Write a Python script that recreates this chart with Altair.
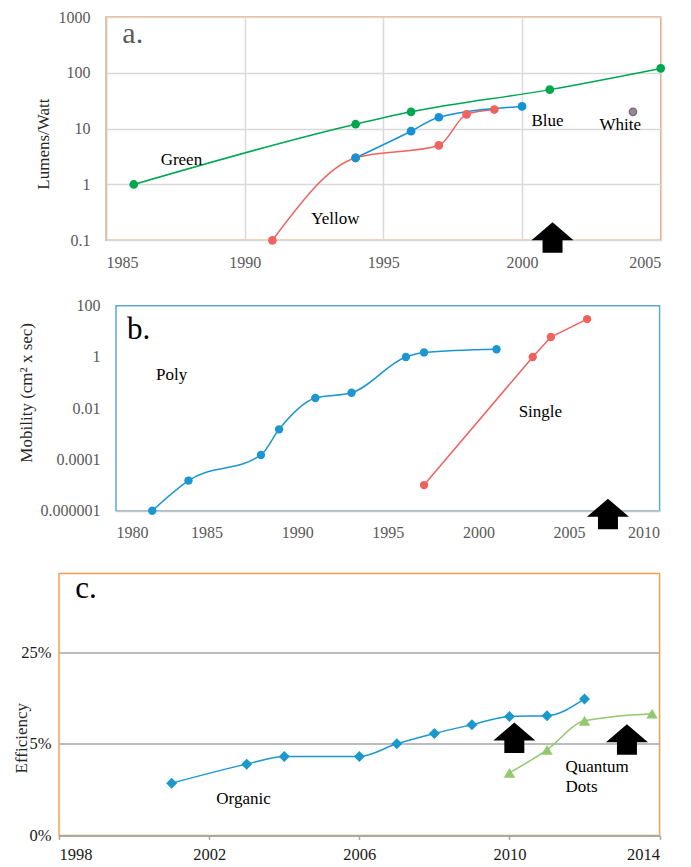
import altair as alt
import pandas as pd

# ---------------- data: panel a (LED efficiency) ----------------
green_year = [1986, 1994, 1996, 2001, 2005]
green_lmw = [1, 12, 20, 50, 120]
blue_year = [1994, 1996, 1997, 2000]
blue_lmw = [3, 9, 16, 25]
yellow_year = [1991, 1994, 1997, 1998, 1999]
yellow_lmw = [0.1, 3, 5, 18, 22]
white_year = [2004]
white_lmw = [20]

a_x_ticks = [1985, 1990, 1995, 2000, 2005]
a_y_ticks = [0.1, 1, 10, 100, 1000]
a_lab_text = ["Green", "Yellow", "Blue", "White"]
a_lab_year = [1986.97, 1992.40, 2000.34, 2002.79]
a_lab_val = [2.22, 0.194, 11.3, 9.44]
a_letter = ["a."]
a_letter_year = [1985.59]
a_letter_val = [340]
arrow_a_year = [2001.1]
arrow_a_val = [0.1]
frame_a_year = [1981.625]   # invisible left edge of panel a (layout only)
frame_a_val = [1]

# ---------------- data: panel b (mobility) ----------------
poly_year = [1982, 1984, 1988, 1989, 1991, 1993, 1996, 1997, 2001]
poly_mob = [1e-6, 1.5e-5, 1.5e-4, 1.5e-3, 0.025, 0.04, 1, 1.5, 2]
single_year = [1997, 2003, 2004, 2006]
single_mob = [1e-5, 1, 6, 30]

b_x_ticks = [1980, 1985, 1990, 1995, 2000, 2005, 2010]
b_y_ticks = [1e-6, 1e-4, 1e-2, 1, 100]
b_lab_text = ["Poly", "Single"]
b_lab_year = [1982.21, 2002.22]
b_lab_val = [0.131, 0.00444]
b_letter = ["b."]
b_letter_year = [1980.61]
b_letter_val = [5.09]
arrow_b_year = [2007.15]
arrow_b_val = [5.8e-7]
frame_b_year = [1974.294]   # invisible left edge of panel b (layout only)
frame_b_val = [1]

# ---------------- data: panel c (solar efficiency) ----------------
organic_year = [2001, 2003, 2004, 2006, 2007, 2008, 2009, 2010, 2011, 2012]
organic_eff = [0.025, 0.035, 0.04, 0.04, 0.05, 0.06, 0.07, 0.081, 0.082, 0.11]
qd_year = [2010, 2011, 2012, 2013.8]
qd_eff = [0.03, 0.045, 0.075, 0.085]

c_x_ticks = [1998, 2002, 2006, 2010, 2014]
c_y_ticks = [0.01, 0.05, 0.25]
c_lab_text = ["Organic", "Quantum", "Dots"]
c_lab_year = [2002.19, 2011.49, 2011.49]
c_lab_val = [0.0174, 0.0304, 0.0215]
c_letter = ["c."]
c_letter_year = [1998.43]
c_letter_val = [0.65]
arrow_c_year = [2010.13, 2013.13]
arrow_c_val = [0.053, 0.0515]
frame_c_year = [1996.775]   # invisible left edge of panel c (layout only)
frame_c_val = [0.05]

SERIF = "Liberation Serif"
ARROW = "M-1,0L0,-0.857L1,0L0.476,0L0.476,0.595L-0.476,0.595L-0.476,0Z"


def df(years, vals):
    return pd.DataFrame({"year": years, "val": vals})


def labdf(texts, years, vals):
    return pd.DataFrame({"label": texts, "year": years, "val": vals})


def panel(x_enc, y_enc, series, extra, labels, letter, letter_style, arrows, frame,
          width, height, view):
    lines = []
    points = []
    for d, color, shape, size, interp in series:
        base = alt.Chart(d).encode(x=x_enc, y=y_enc)
        if len(d) > 1:
            lines.append(base.mark_line(color=color, strokeWidth=1.5, interpolate=interp))
        points.append(base.mark_point(filled=True, color=color, shape=shape, size=size,
                                      opacity=1))
    layers = lines + points + extra
    layers.append(
        alt.Chart(labels).mark_text(align="left", baseline="alphabetic", font=SERIF,
                                    fontSize=17, color="black")
        .encode(x=x_enc, y=y_enc, text="label:N")
    )
    layers.append(
        alt.Chart(letter).mark_text(align="left", baseline="alphabetic", font=SERIF,
                                    **letter_style)
        .encode(x=x_enc, y=y_enc, text="label:N")
    )
    layers.append(
        alt.Chart(arrows).mark_point(shape=ARROW, size=1764, filled=True, color="black",
                                     opacity=1, strokeWidth=0)
        .encode(x=x_enc, y=y_enc)
    )
    layers.append(
        alt.Chart(frame).mark_text(text=".", align="left", fontSize=2, opacity=0)
        .encode(x=x_enc, y=y_enc)
    )
    return alt.layer(*layers).properties(width=width, height=height, view=view)


# ---------------- panel a ----------------
xa = alt.X("year:Q", title=None,
           scale=alt.Scale(domain=[1985, 2005], nice=False, zero=False),
           axis=alt.Axis(values=a_x_ticks, format="d", grid=True, gridColor="#D9D9D9",
                         gridWidth=1.5, ticks=False, domain=False, labelFont=SERIF,
                         labelFontSize=16, labelColor="#595959", labelPadding=14))
ya = alt.Y("val:Q",
           scale=alt.Scale(type="log", domain=[0.1, 1000], nice=False),
           axis=alt.Axis(values=a_y_ticks, format="~f", grid=True, gridColor="#D9D9D9",
                         gridWidth=1.5, ticks=False, domain=True, domainColor="#CFC7BF",
                         domainWidth=1.5, labelFont=SERIF, labelFontSize=16,
                         labelColor="#595959", labelPadding=16,
                         title="Lumens/Watt", titleFont=SERIF, titleFontSize=17,
                         titleFontWeight="normal", titleColor="#262626",
                         titleAngle=270, titleBaseline="middle", titleAlign="center",
                         titleX=-63, titleY=126.6))

white_pt = alt.Chart(df(white_year, white_lmw)).mark_point(
    filled=True, fill="#9A8C78", stroke="#8064A2", strokeWidth=1.5, size=52, opacity=1
).encode(x=xa, y=ya)

chart_a = panel(
    xa, ya,
    [(df(green_year, green_lmw), "#00A651", "circle", 76, "monotone"),
     (df(yellow_year, yellow_lmw), "#F0625E", "circle", 76, "monotone"),
     (df(blue_year, blue_lmw), "#1592D6", "circle", 76, "monotone")],
    [white_pt],
    labdf(a_lab_text, a_lab_year, a_lab_val),
    labdf(a_letter, a_letter_year, a_letter_val),
    dict(fontSize=30, color="#595959"),
    df(arrow_a_year, arrow_a_val),
    df(frame_a_year, frame_a_val),
    554.7, 223.3,
    alt.ViewBackground(stroke="#F5A25F", strokeWidth=1.5),
)

# ---------------- panel b ----------------
xb = alt.X("year:Q", title=None,
           scale=alt.Scale(domain=[1980, 2010], nice=False, zero=False),
           axis=alt.Axis(values=b_x_ticks, format="d", grid=False, ticks=False,
                         domain=True, domainColor="#BFC5CA", domainWidth=2,
                         labelFont=SERIF, labelFontSize=16, labelColor="#595959",
                         labelPadding=14))
yb = alt.Y("val:Q",
           scale=alt.Scale(type="log", domain=[1e-6, 100], nice=False),
           axis=alt.Axis(values=b_y_ticks, format="~f", grid=False, ticks=False,
                         domain=False, labelFont=SERIF, labelFontSize=16,
                         labelColor="#595959", labelPadding=16,
                         title="Mobility (cm² x sec)", titleFont=SERIF, titleFontSize=17,
                         titleFontWeight="normal", titleColor="#262626",
                         titleAngle=270, titleBaseline="middle", titleAlign="center",
                         titleX=-90, titleY=86.6))
chart_b = panel(
    xb, yb,
    [(df(poly_year, poly_mob), "#1B96D0", "circle", 70, "monotone"),
     (df(single_year, single_mob), "#F0625E", "circle", 70, "linear")],
    [],
    labdf(b_lab_text, b_lab_year, b_lab_val),
    labdf(b_letter, b_letter_year, b_letter_val),
    dict(fontSize=31, color="black"),
    df(arrow_b_year, arrow_b_val),
    df(frame_b_year, frame_b_val),
    543.6, 205,
    alt.ViewBackground(stroke="#5AAAD4", strokeWidth=1.5),
)

# ---------------- panel c ----------------
xc = alt.X("year:Q", title=None,
           scale=alt.Scale(domain=[1998, 2014], nice=False, zero=False),
           axis=alt.Axis(values=c_x_ticks, format="d", grid=False, ticks=True,
                         tickColor="#A6A6A6", tickSize=4, tickWidth=1.5,
                         domain=True, domainColor="#A6A6A6", domainWidth=1.5,
                         labelFont=SERIF, labelFontSize=16.5, labelColor="#1A1A1A",
                         labelPadding=7.5))
yc = alt.Y("val:Q",
           scale=alt.Scale(type="log", base=5, domain=[0.01, 1], nice=False),
           axis=alt.Axis(values=c_y_ticks,
                         labelExpr="datum.value < 0.02 ? '0%' : format(datum.value, '.0%')",
                         grid=True, gridColor="#A6A6A6", gridWidth=1.5, ticks=False,
                         domain=False, labelFont=SERIF, labelFontSize=16.5,
                         labelColor="#1A1A1A", labelPadding=8,
                         title="Efficiency", titleFont=SERIF, titleFontSize=17,
                         titleFontWeight="normal", titleColor="#262626",
                         titleAngle=270, titleBaseline="middle", titleAlign="center",
                         titleX=-37.6, titleY=164.3))
chart_c = panel(
    xc, yc,
    [(df(organic_year, organic_eff), "#1B98CC", "diamond", 121, "monotone"),
     (df(qd_year, qd_eff), "#92C86E", "triangle-up", 130, "monotone")],
    [],
    labdf(c_lab_text, c_lab_year, c_lab_val),
    labdf(c_letter, c_letter_year, c_letter_val),
    dict(fontSize=31, color="black"),
    df(arrow_c_year, arrow_c_val),
    df(frame_c_year, frame_c_val),
    600.6, 262,
    alt.ViewBackground(stroke="#F7A052", strokeWidth=1.5),
)


def spacer():
    return (alt.Chart(pd.DataFrame({"v": [0]}))
            .mark_text(text="")
            .encode(x=alt.value(0), y=alt.value(0))
            .properties(width=1, height=1,
                        view=alt.ViewBackground(stroke="transparent")))


rows = [alt.hconcat(spacer(), c, spacing=0) for c in (chart_a, chart_b, chart_c)]

chart = alt.vconcat(*rows, spacing=24.7).properties(
    padding={"left": 0, "top": 0, "right": 0, "bottom": 0},
    background="white",
)

chart.save("out.html", embed_options={"renderer": "svg", "actions": False})
